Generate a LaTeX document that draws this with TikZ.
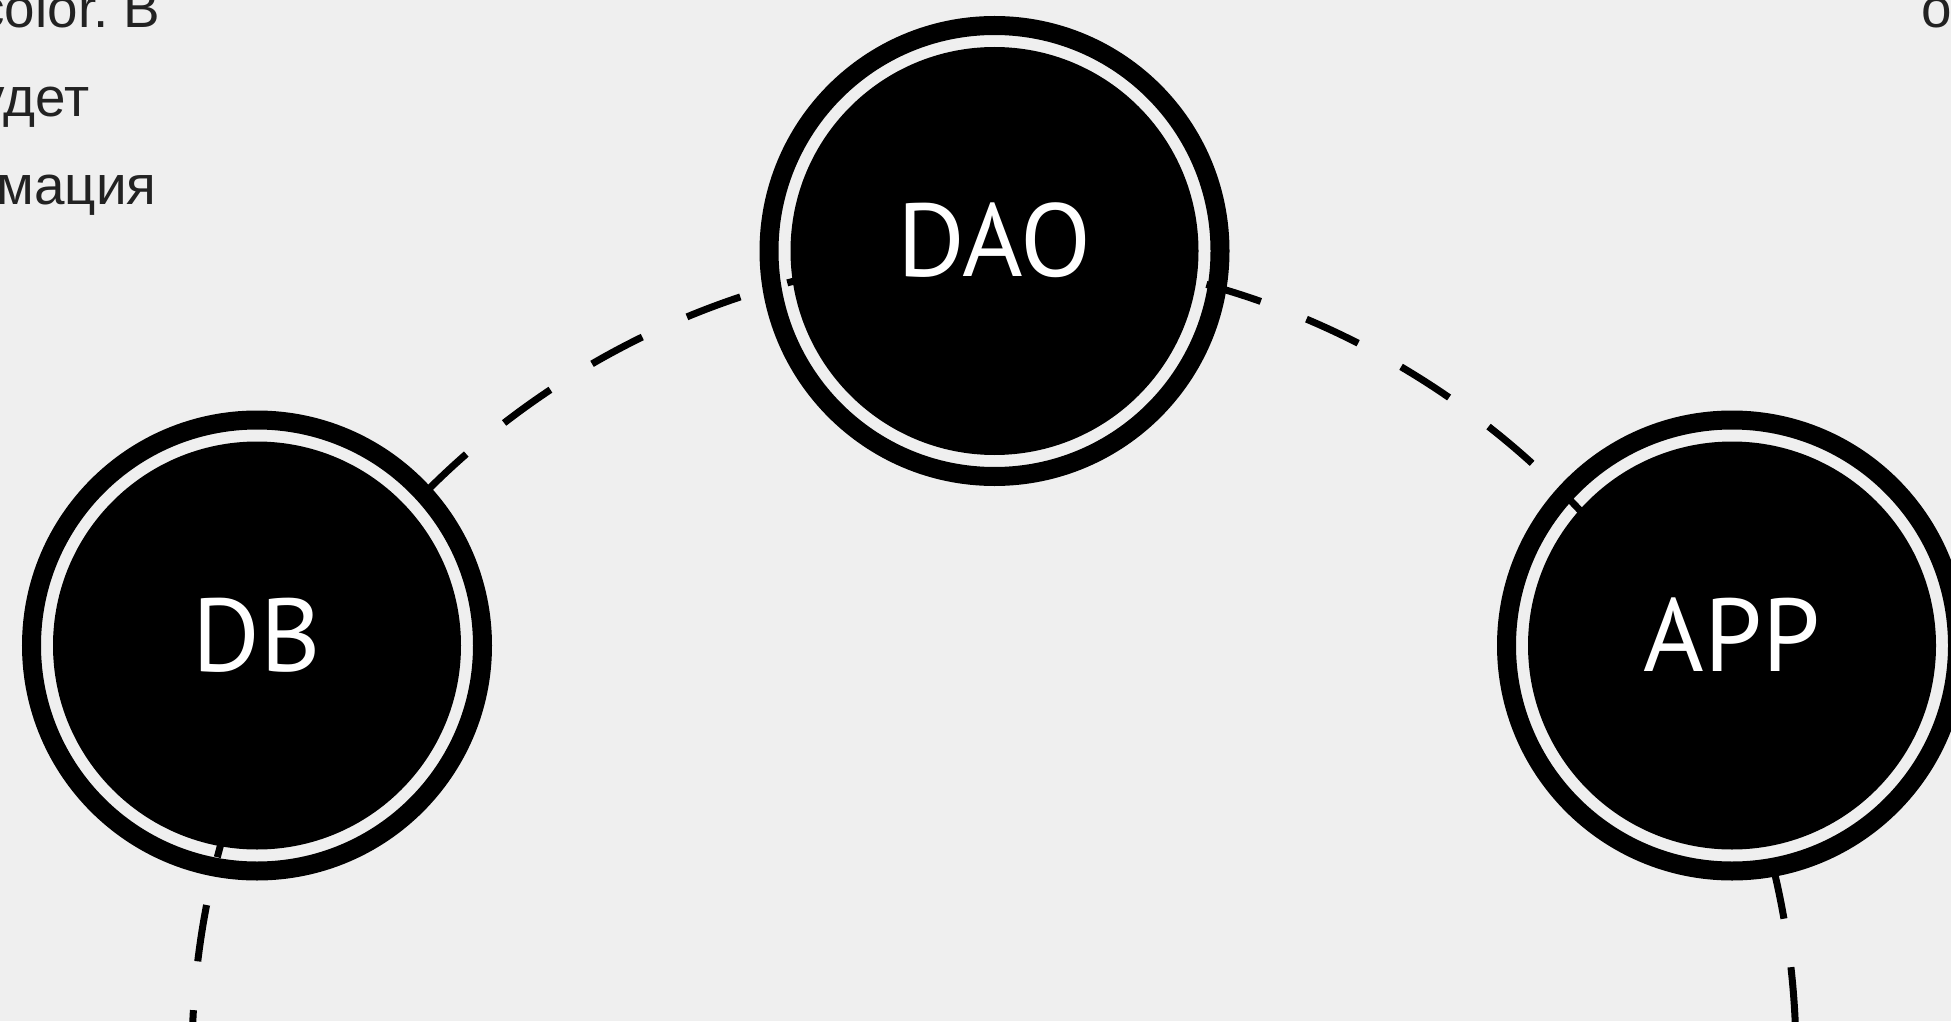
\documentclass[tikz,border=0pt]{standalone}
\usepackage{fontspec}
\setmainfont{Liberation Sans}
\newfontfamily\labelfont{PT Sans}
\usetikzlibrary{positioning}
\definecolor{paper}{RGB}{239,239,239}
\definecolor{ink}{RGB}{34,34,34}
\frenchspacing

\tikzset{
  station/.style={circle, fill=black, minimum size=4.08cm, inner sep=0pt, text=white,
    text depth=0.22cm, font=\labelfont\fontsize{29.5}{30}\selectfont, on grid},
  ring/.style={draw=black, line width=0.19cm},
  orbit/.style={draw=black, line width=0.07cm, dash pattern=on 0.57cm off 0.49cm, dash phase=0.72cm},
  note/.style={text=ink, font=\fontsize{15.6}{18}\selectfont, inner sep=0pt}
}

\begin{document}
\begin{tikzpicture}
	\useasboundingbox (0,0) rectangle (19.51,10.21);
	\fill[paper] (0,0) rectangle (19.51,10.21);
	\clip (0,0) rectangle (19.51,10.21);

	% text cut off by the frame
	\node[note, anchor=base east] (l1) at (1.61,9.93) {color. В};
	\node[note, anchor=base east] (l2) at (0.90,9.04) {удет};
	\node[note, anchor=base east] (l3) at (1.57,8.16) {мация};
	\node[note, anchor=base west] (r1) at (19.21,9.93) {о};

	\coordinate (hub) at (9.94,-0.37);
	\draw[orbit] (hub) circle[radius=8.02];

	\node[station]                                         (dao) at (9.945,7.70) {DAO};
	\node[station, below left=3.945cm and 7.375cm of dao]  (db)  {DB};
	\node[station, below right=3.945cm and 7.375cm of dao] (app) {APP};

	\foreach \n in {db,dao,app}
		\draw[ring] (\n.center) circle[radius=2.255];
\end{tikzpicture}
\end{document}
